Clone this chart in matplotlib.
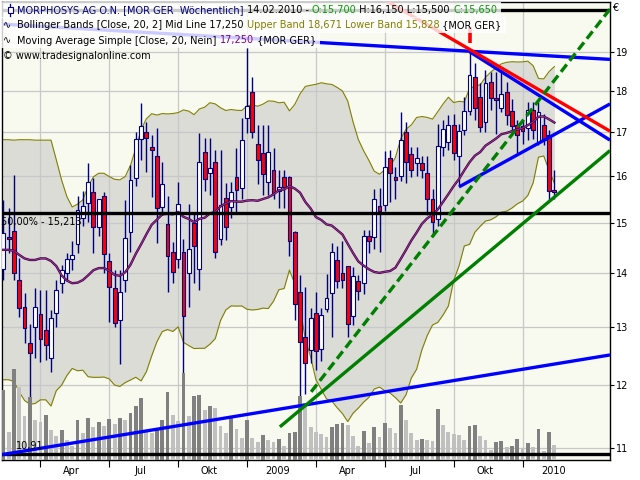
import numpy as np
import pandas as pd
import matplotlib
matplotlib.use("Agg")
import matplotlib.pyplot as plt
import matplotlib.transforms as mtransforms
from matplotlib.patches import Rectangle
from matplotlib.lines import Line2D
from matplotlib.ticker import NullLocator

plt.rcParams["font.family"] = ["DejaVu Sans"]

# MORPHOSYS AG, weekly bars (dated on Sunday)
dates = pd.date_range("2008-02-17", periods=105, freq="W-SUN")

opens = [14.08, 14.72, 14.84, 13.87, 13.37, 12.71, 13.01, 13.23, 12.95, 12.45,
         13.26, 13.81, 14.00, 14.28, 14.58, 15.11, 15.43, 15.65, 14.92, 15.57,
         14.24, 13.71, 13.13, 13.88, 14.81, 15.96, 16.84, 17.02, 16.66, 16.46,
         15.33, 14.98, 14.42, 14.27, 14.42, 14.00, 15.00, 14.08, 16.55, 16.08,
         16.33, 14.67, 15.53, 15.33, 15.99, 15.74, 17.33, 17.98, 16.72, 16.52,
         15.88, 16.15, 15.68, 15.99, 15.99, 14.83, 13.64, 12.83, 12.60, 13.26,
         12.62, 13.32, 13.63, 14.26, 14.01, 14.14, 13.20, 13.85, 13.81, 14.73,
         14.71, 15.36, 15.38, 16.40, 15.99, 16.01, 17.00, 16.50, 16.29, 16.29,
         16.07, 15.50, 15.08, 16.67, 16.78, 17.18, 16.46, 17.05, 17.51, 18.34,
         17.84, 17.25, 18.23, 17.82, 17.58, 17.98, 17.51, 17.18, 17.14, 17.10,
         17.53, 16.78, 17.18, 16.94, 15.70]
highs = [15.49, 15.32, 16.03, 14.29, 13.62, 13.06, 13.71, 13.68, 13.68, 13.31,
         13.87, 14.17, 14.39, 14.64, 15.57, 15.68, 16.29, 15.96, 15.52, 15.65,
         14.39, 14.06, 14.06, 15.49, 16.25, 17.02, 17.71, 17.25, 16.94, 17.10,
         16.33, 15.57, 14.62, 15.88, 14.67, 15.40, 15.22, 16.98, 16.86, 16.86,
         16.59, 16.59, 15.85, 15.88, 16.63, 17.33, 19.09, 18.36, 17.18, 17.18,
         17.18, 16.63, 16.15, 16.14, 16.00, 14.85, 13.97, 13.74, 13.34, 13.64,
         13.34, 13.98, 14.59, 14.53, 14.63, 14.14, 14.12, 13.97, 14.86, 14.86,
         15.72, 15.74, 16.57, 16.59, 16.21, 17.49, 17.25, 16.66, 16.67, 16.46,
         16.46, 15.72, 17.21, 17.29, 17.41, 17.44, 17.21, 17.86, 18.96, 18.70,
         18.19, 18.53, 18.48, 18.48, 18.48, 18.23, 17.80, 17.29, 17.29, 17.73,
         17.73, 17.73, 17.44, 17.06, 16.15]
lows = [13.88, 14.39, 13.87, 13.19, 12.71, 10.91, 12.45, 12.39, 12.42, 12.22,
        13.01, 13.62, 13.88, 14.06, 14.39, 14.94, 15.03, 14.40, 14.73, 14.00,
        13.10, 13.01, 12.35, 13.65, 14.41, 15.79, 16.37, 16.10, 15.56, 14.60,
        15.17, 13.64, 13.81, 14.10, 12.20, 13.37, 13.81, 13.68, 15.68, 15.60,
        14.30, 14.55, 14.66, 15.10, 15.19, 15.50, 16.98, 16.86, 15.83, 15.60,
        15.60, 15.50, 15.31, 15.31, 14.33, 13.13, 11.72, 11.86, 12.37, 12.25,
        12.40, 13.28, 12.83, 13.72, 13.72, 12.83, 13.04, 13.49, 13.60, 14.39,
        14.48, 14.41, 15.25, 15.45, 15.51, 15.90, 15.85, 15.99, 16.00, 15.97,
        15.17, 14.75, 14.94, 16.46, 16.59, 16.37, 15.78, 16.94, 17.41, 17.29,
        17.02, 17.00, 17.53, 16.96, 17.48, 17.18, 17.06, 16.52, 16.74, 16.82,
        16.85, 16.70, 16.70, 15.46, 15.50]
closes = [14.79, 14.68, 14.00, 13.34, 12.98, 12.55, 13.37, 12.79, 12.68, 13.16,
          13.68, 14.07, 14.27, 14.36, 15.28, 15.36, 15.88, 14.92, 15.50, 14.38,
          13.73, 13.08, 13.65, 14.69, 15.92, 16.85, 17.15, 16.86, 16.59, 15.31,
          15.83, 14.33, 14.03, 15.40, 13.20, 14.47, 14.53, 16.33, 15.94, 16.19,
          14.41, 15.38, 14.92, 15.66, 15.70, 16.82, 17.62, 17.00, 16.37, 16.06,
          16.54, 15.63, 15.77, 15.77, 14.63, 13.42, 12.74, 12.37, 13.16, 12.58,
          13.22, 13.54, 14.42, 13.85, 13.88, 13.05, 13.95, 13.67, 14.74, 14.63,
          15.50, 15.26, 16.20, 16.08, 15.92, 16.82, 16.33, 16.14, 16.41, 16.14,
          15.50, 15.02, 16.68, 17.07, 17.18, 16.53, 17.03, 17.50, 18.40, 17.58,
          17.12, 18.19, 17.82, 17.78, 17.92, 17.41, 17.16, 16.94, 17.04, 17.53,
          17.06, 17.49, 16.82, 15.69, 15.65]
# volume in 1000 shares
volume = [700, 280, 910, 730, 440, 630, 400, 380, 450, 300,
          240, 300, 200, 140, 400, 270, 420, 330, 380, 340,
          410, 360, 420, 400, 470, 540, 620, 280, 270, 310,
          400, 680, 450, 390, 870, 440, 640, 650, 500, 540,
          520, 340, 270, 420, 310, 220, 400, 220, 180, 250,
          200, 180, 210, 140, 270, 280, 640, 570, 330, 280,
          260, 230, 330, 360, 370, 350, 240, 140, 290, 170,
          330, 230, 370, 320, 270, 550, 400, 270, 200, 210,
          200, 190, 510, 350, 280, 260, 250, 200, 340, 350,
          240, 200, 100, 180, 190, 130, 140, 210, 120, 170,
          130, 310, 90, 280, 150]

# Bollinger (20, 2) values on the first bars, where the 20-week window
# reaches back before the chart start
bb_mid_head = [14.46, 14.46, 14.44, 14.36, 14.29, 14.26, 14.26, 14.29, 14.29, 14.24,
               14.14, 13.96, 13.86, 13.81, 13.82, 13.87, 13.96, 14.06, 14.10]
bb_upper_head = [16.83, 16.83, 16.82, 16.83, 16.83, 16.83, 16.82, 16.82, 16.82, 16.82,
                 16.37, 15.92, 15.56, 15.34, 15.40, 15.49, 15.78, 15.99, 16.07]

fib_low, fib_mid, fib_high = 10.91, 15.213, 20.12

# drawn trend lines: (bar, price, bar, price)
blue_top = (-0.62, 19.74, 114.5, 18.80)
blue_bottom = (-0.62, 10.90, 114.5, 12.51)
blue_fall = (88.0, 19.00, 114.5, 16.82)
blue_rise = (86.0, 15.77, 114.5, 17.68)
red_fall = (71.0, 20.49, 114.5, 17.03)
green_solid = (52.2, 11.33, 114.5, 16.58)
green_dash = (58.1, 11.89, 114.5, 20.15)
signal_bar, signal_lo, signal_hi = 88, 19.23, 19.65

month_names = {4: "Apr", 7: "Jul", 10: "Okt"}

NAVY = "#000080"
W, H = 640, 480

fig = plt.figure(figsize=(6.4, 4.8), dpi=100, facecolor="white")
ax = fig.add_axes([2 / W, 20 / H, 608 / W, 458 / H])
ax.set_facecolor("#f8faf0")
ax.set_yscale("log")

x = np.arange(len(closes))
cl = pd.Series(closes)
mid = cl.rolling(20).mean().to_numpy()
sd = cl.rolling(20).std(ddof=0).to_numpy()
upper = mid + 2 * sd
lower = mid - 2 * sd
n0 = len(bb_mid_head)
mid[:n0] = bb_mid_head
upper[:n0] = bb_upper_head
lower[:n0] = 2 * np.array(bb_mid_head) - np.array(bb_upper_head)

# quarter boundaries -> first bar of each quarter
grid_idx, grid_lab = [], []
for i in range(1, len(dates)):
    m = dates[i].month
    if m != dates[i - 1].month and m in (1, 4, 7, 10):
        grid_idx.append(i)
        grid_lab.append(str(dates[i].year) if m == 1 else month_names[m])

# grid
for p in range(11, 20):
    ax.axhline(p, color="#c8c8c8", lw=0.9, zorder=1.5)
for gi in grid_idx:
    ax.axvline(gi, color="#c8c8c8", lw=0.9, zorder=1.5)

# bollinger bands
ax.fill_between(x, lower, upper, color="#dbdcd6", lw=0, zorder=1)
ax.plot(x, upper, color="#808000", lw=0.8, zorder=2)
ax.plot(x, lower, color="#808000", lw=0.8, zorder=2)

# candles
for i in x:
    o, h, l, c = opens[i], highs[i], lows[i], closes[i]
    ax.vlines(i, l, h, color=NAVY, lw=1.0, zorder=3)
    lo_, hi_ = min(o, c), max(o, c)
    ax.add_patch(Rectangle((i - 0.36, lo_), 0.72, max(hi_ - lo_, 0.02),
                           fc="white" if c >= o else "red", ec=NAVY, lw=0.8, zorder=3.1))

# moving average
ax.plot(x, mid, color="#3a003a", lw=1.7, zorder=3.3)
ax.plot(x, mid, color="#a030a0", lw=0.7, zorder=3.31)

# volume overlay
trans = mtransforms.blended_transform_factory(ax.transData, ax.transAxes)
vol = np.array(volume, dtype=float)
vcol = ["#808080" if i == 0 or vol[i] >= vol[i - 1] else "#c0c0c0" for i in x]
for i in x:
    ax.add_patch(Rectangle((i - 0.36, 0), 0.72, vol[i] / 4580, transform=trans,
                           fc=vcol[i], ec="none", zorder=3.5))

# fibonacci levels
for lev in (fib_low, fib_mid, fib_high):
    ax.axhline(lev, color="black", lw=2.4, zorder=4)

# trend lines
def tline(t, color, **kw):
    ax.plot([t[0], t[2]], [t[1], t[3]], color=color, lw=2.4,
            solid_capstyle="butt", zorder=4.5, **kw)

tline(blue_top, "#0000ff")
tline(blue_bottom, "#0000ff")
tline(blue_fall, "#0000ff")
tline(blue_rise, "#0000ff")
tline(red_fall, "#ff0000")
tline(green_solid, "#008000")
tline(green_dash, "#008000", dashes=(2.8, 1.4))
ax.vlines(signal_bar, signal_lo, signal_hi, color="#ff0000", lw=2.6, zorder=4.5)

ax.set_xlim(-0.25, 114.5)
ax.set_ylim(10.824, 20.347)

ax.annotate("50,00% - 15,213", xy=(-0.25, fib_mid), xytext=(-1, -9),
            textcoords="offset pixels", ha="left", va="center", fontsize=7, zorder=5)
ax.annotate("10,91", xy=(-0.25, fib_low), xytext=(14, 8),
            textcoords="offset pixels", ha="left", va="center", fontsize=7, zorder=5)

# axes
ax.yaxis.tick_right()
ax.set_yticks(range(11, 20))
ax.set_yticklabels([str(p) for p in range(11, 20)])
ax.yaxis.set_minor_locator(NullLocator())
ax.tick_params(axis="y", direction="out", length=3, width=0.8, pad=1.5, labelsize=7)
ax.set_xticks(grid_idx)
ax.set_xticklabels([])
ax.xaxis.set_minor_locator(NullLocator())
ax.tick_params(axis="x", direction="out", length=5, width=0.8)
for gi, lab in zip(grid_idx, grid_lab):
    ax.text(gi + 5.85, -0.024, lab, transform=trans, ha="center", va="center", fontsize=7)
for s in ax.spines.values():
    s.set_linewidth(1.0)
    s.set_color("black")
fig.text(612 / W, 1 - 8 / H, "€", fontsize=7, ha="left", va="center")

# header
renderer = fig.canvas.get_renderer()
FS = 7


def write_line(x_px, y_px, pieces):
    xx = x_px
    for txt, col in pieces:
        t = fig.text(xx / W, 1 - y_px / H, txt, color=col, fontsize=FS,
                     ha="left", va="center", zorder=6)
        xx = t.get_window_extent(renderer).x1
    return xx


def back_box(x1, y0, y1):
    fig.add_artist(Rectangle((1 / W, 1 - y1 / H), (x1 + 3) / W, (y1 - y0) / H,
                             transform=fig.transFigure, fc="white", alpha=0.8,
                             ec="none", zorder=5))


e1 = write_line(17, 10, [("MORPHOSYS AG O.N. [MOR GER  Wöchentlich]", NAVY),
                         (" 14.02.2010 - ", "black"), ("O:15,700", "#00a000"),
                         (" H:16,150 L:15,500 ", "black"), ("C:15,650", "#00a000")])
back_box(e1, 2, 17.5)
e2 = write_line(17, 25.5, [("Bollinger Bands [Close, 20, 2] Mid Line 17,250 ", "black"),
                           ("Upper Band 18,671 Lower Band 15,828", "#808000"),
                           (" {MOR GER}", "black")])
back_box(e2, 17.5, 33)
e3 = write_line(17, 40.5, [("Moving Average Simple [Close, 20, Nein] ", "black"),
                           ("17,250", "#800080"), (" {MOR GER}", "black")])
back_box(e3, 33, 48)
write_line(3, 56, [("© www.tradesignalonline.com", "black")])
fig.text(3 / W, 1 - 25.5 / H, "∿", fontsize=7, ha="left", va="center", zorder=6)
fig.text(3 / W, 1 - 40.5 / H, "∿", fontsize=7, ha="left", va="center", zorder=6)
# candle icon of the main series
fig.add_artist(Line2D([10 / W, 10 / W], [1 - 4 / H, 1 - 16 / H], color=NAVY,
                      lw=0.9, transform=fig.transFigure, zorder=6))
fig.add_artist(Rectangle((7.5 / W, 1 - 13 / H), 5 / W, 6 / H, transform=fig.transFigure,
                         fc="white", ec=NAVY, lw=0.8, zorder=6.1))

fig.savefig("out.png", dpi=100, facecolor="white")
